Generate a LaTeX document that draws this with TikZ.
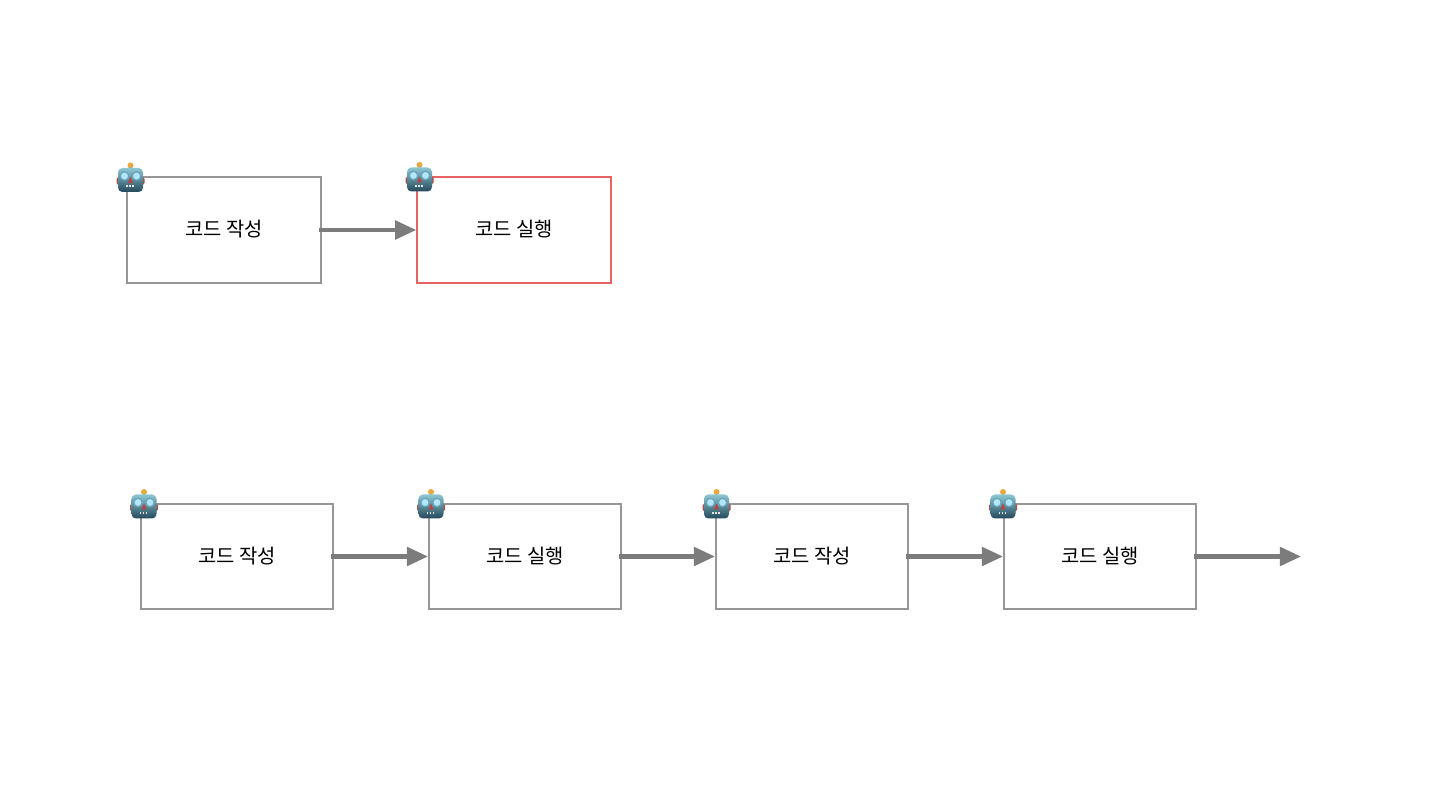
\documentclass[tikz,border=0pt]{standalone}
\usepackage{fontspec}
\newfontfamily\krfont{Noto Sans CJK KR}
\usetikzlibrary{positioning,arrows.meta}
\definecolor{boxgray}{HTML}{969696}
\definecolor{boxred}{HTML}{E46464}
\definecolor{arrowgray}{HTML}{7C7C7C}
\definecolor{headtop}{HTML}{8CC8D2}
\definecolor{headbot}{HTML}{24485A}
\definecolor{earred}{HTML}{A8504C}
\definecolor{bulb}{HTML}{E8A83C}
\tikzset{
    robot/.pic={
        \begin{scope}[x=0.02cm,y=0.02cm]
            \fill[earred,rounded corners=1pt] (-14,-5) rectangle (14,3);
            \fill[bulb] (0,14.5) circle (3);
            \fill[gray!70] (-1.2,9) rectangle (1.2,12.5);
            \shade[top color=headtop,bottom color=headbot,rounded corners=2.5pt] (-12.5,12) rectangle (12.5,-12);
            \fill[white!70!cyan,draw=cyan!45!gray,line width=0.7pt] (-6,4) circle (4.2);
            \fill[white!70!cyan,draw=cyan!45!gray,line width=0.7pt] (6,4) circle (4.2);
            \fill[red!50!gray] (0,3) -- (2.5,-3) -- (-2.5,-3) -- cycle;
            \fill[gray!20] (-4.5,-7.5) rectangle (-3,-5.5);
            \fill[gray!20] (-1.5,-7.5) rectangle (0,-5.5);
            \fill[gray!20] (1.5,-7.5) rectangle (3,-5.5);
        \end{scope}
    }
}
\begin{document}
\begin{tikzpicture}[
        x=0.02cm,y=-0.02cm,
        taskbox/.style={draw=boxgray,line width=0.9pt,minimum width=3.85cm,minimum height=2.1cm,inner sep=0pt,font=\krfont\fontsize{11.3}{13}\selectfont,text=black},
        topbox/.style={taskbox,minimum width=3.88cm,minimum height=2.12cm},
        activebox/.style={topbox,draw=boxred},
        flow/.style={draw=arrowgray,line width=2.3pt,shorten <=-1.5pt,-{Triangle[length=12pt,width=10.5pt]}}
    ]
    \useasboundingbox (0,0) rectangle (1440,810);

    % top row
    \node[topbox] (write) at (224,230) {\raisebox{2.2pt}{코드 작성}};
    \node[activebox] (run) at (514,230) {\raisebox{2.2pt}{코드 실행}};
    \draw[flow] (write) -- (run);
    \pic at (130.5,180) {robot};
    \pic at (419.5,179.5) {robot};

    % bottom row
    \node[taskbox] (writeA) at (237,556.5) {코드 작성};
    \node[taskbox] (runA) at (525,556.5) {코드 실행};
    \node[taskbox] (writeB) at (812,556.5) {코드 작성};
    \node[taskbox] (runB) at (1100,556.5) {코드 실행};
    \coordinate (end) at (1301,556.5);
    \draw[flow] (writeA) -- (runA);
    \draw[flow] (runA) -- (writeB);
    \draw[flow] (writeB) -- (runB);
    \draw[flow] (runB) -- (end);
    \pic at (144,506.5) {robot};
    \pic at (431,506.5) {robot};
    \pic at (716.5,506.5) {robot};
    \pic at (1003,506.5) {robot};
\end{tikzpicture}
\end{document}
